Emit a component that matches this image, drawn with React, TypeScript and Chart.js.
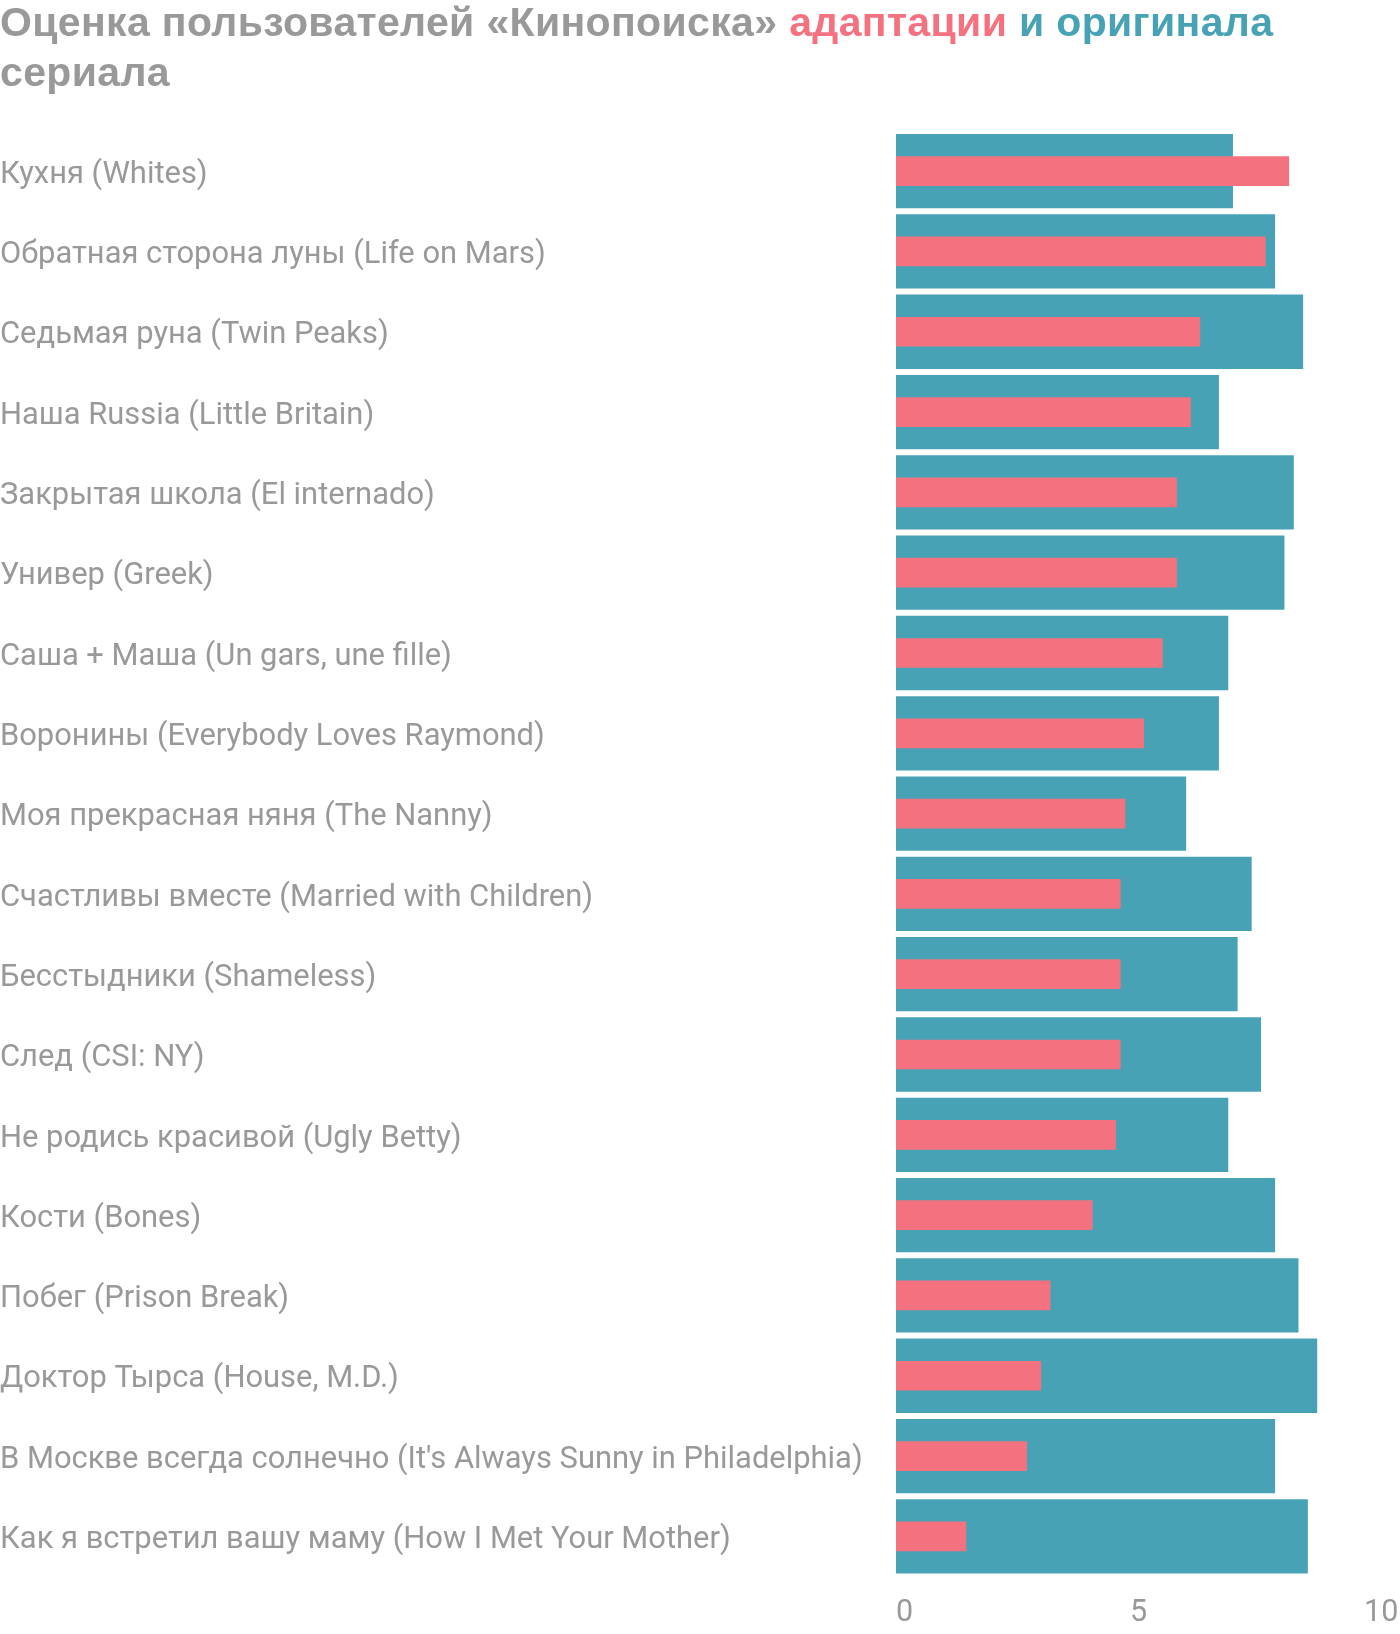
import React, { useEffect, useRef } from "react";
import { Chart, registerables } from "chart.js";

Chart.register(...registerables);

const categories: string[] = [
  "Кухня (Whites)",
  "Обратная сторона луны (Life on Mars)",
  "Седьмая руна (Twin Peaks)",
  "Наша Russia (Little Britain)",
  "Закрытая школа (El internado)",
  "Универ (Greek)",
  "Саша + Маша (Un gars, une fille)",
  "Воронины (Everybody Loves Raymond)",
  "Моя прекрасная няня (The Nanny)",
  "Счастливы вместе (Married with Children)",
  "Бесстыдники (Shameless)",
  "След (CSI: NY)",
  "Не родись красивой (Ugly Betty)",
  "Кости (Bones)",
  "Побег (Prison Break)",
  "Доктор Тырса (House, M.D.)",
  "В Москве всегда солнечно (It's Always Sunny in Philadelphia)",
  "Как я встретил вашу маму (How I Met Your Mother)",
];

const originalRatings: number[] = [
  7.2, 8.1, 8.7, 6.9, 8.5, 8.3, 7.1, 6.9, 6.2, 7.6, 7.3, 7.8, 7.1, 8.1, 8.6, 9.0, 8.1, 8.8,
];

const adaptationRatings: number[] = [
  8.4, 7.9, 6.5, 6.3, 6.0, 6.0, 5.7, 5.3, 4.9, 4.8, 4.8, 4.8, 4.7, 4.2, 3.3, 3.1, 2.8, 1.5,
];

const xTicks: number[] = [0, 5, 10];

const TEAL = "#48a2b5";
const PINK = "#f47280";
const GRAY = "#999999";

export default function App() {
  const canvasRef = useRef<HTMLCanvasElement | null>(null);

  useEffect(() => {
    const canvas = canvasRef.current;
    if (!canvas) return;
    const chart = new Chart(canvas, {
      type: "bar",
      data: {
        labels: categories,
        datasets: [
          {
            label: "адаптации",
            data: adaptationRatings,
            backgroundColor: PINK,
            barPercentage: 0.37,
            categoryPercentage: 1,
            grouped: false,
            order: 0,
          },
          {
            label: "оригинала",
            data: originalRatings,
            backgroundColor: TEAL,
            barPercentage: 0.925,
            categoryPercentage: 1,
            grouped: false,
            order: 1,
          },
        ],
      },
      options: {
        indexAxis: "y",
        responsive: false,
        animation: false,
        layout: { padding: { top: 131, bottom: 0, left: 0, right: 36 } },
        plugins: {
          legend: { display: false },
          tooltip: { enabled: false },
          title: { display: false },
        },
        scales: {
          x: {
            type: "linear",
            min: 0,
            max: 10,
            afterBuildTicks: (scale: any) => {
              scale.ticks = xTicks.map((v) => ({ value: v }));
            },
            afterFit: (scale: any) => {
              scale.height = 57.5;
              scale.paddingRight = 0;
              scale.paddingLeft = 0;
            },
            grid: { display: false, drawTicks: false },
            border: { display: false },
            ticks: {
              align: "start",
              color: GRAY,
              padding: 19,
              maxRotation: 0,
              font: { family: "Roboto", size: 30.5 },
            },
          },
          y: {
            type: "category",
            grid: { display: false, drawTicks: false },
            border: { display: false },
            afterFit: (scale: any) => {
              scale.width = 896;
            },
            ticks: {
              crossAlign: "far",
              color: GRAY,
              padding: 0,
              labelOffset: 4,
              autoSkip: false,
              font: { family: "Roboto", size: 30.9 },
            },
          },
        },
      },
    });
    return () => chart.destroy();
  }, []);

  return (
    <div style={{ position: "relative", width: 1400, height: 1634 }}>
      <style>{`body{margin:0;}`}</style>
      <canvas
        ref={canvasRef}
        width={1400}
        height={1634}
        style={{ position: "absolute", left: 0, top: 0, width: 1400, height: 1634 }}
      />
      <div
        style={{
          position: "absolute",
          left: 0,
          top: -3,
          zIndex: 1,
          fontFamily: '"Liberation Sans", Arial, sans-serif',
          fontWeight: 700,
          fontSize: 41,
          lineHeight: "50px",
          color: GRAY,
          whiteSpace: "nowrap",
          letterSpacing: "0.35px",
        }}
      >
        Оценка пользователей «Кинопоиска» <span style={{ color: PINK }}>адаптации</span>{" "}
        <span style={{ color: TEAL }}>и оригинала</span>
        <br />
        сериала
      </div>
    </div>
  );
}
